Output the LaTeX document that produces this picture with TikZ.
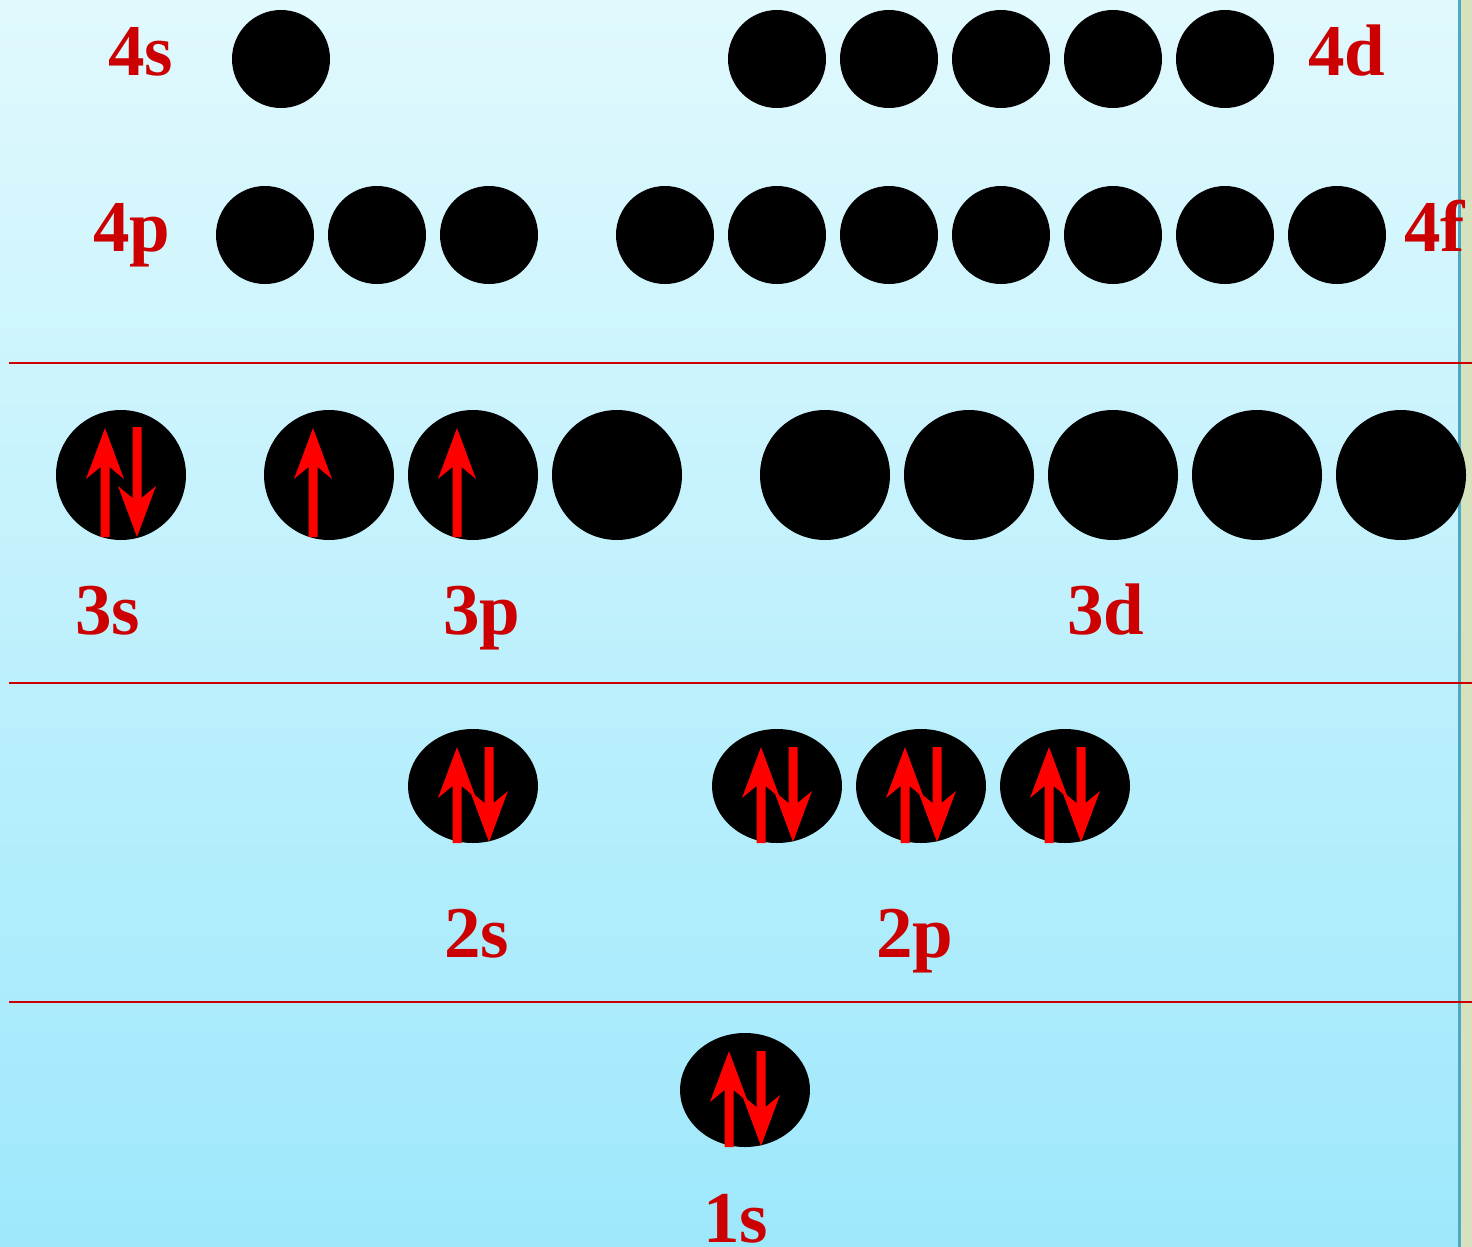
\documentclass[tikz,border=0pt]{standalone}
\usepackage{fontspec}
\setmainfont{Liberation Serif}
\usetikzlibrary{shapes.geometric,calc}
\definecolor{bgtop}{RGB}{224,249,253}
\definecolor{bgbot}{RGB}{158,232,252}
\definecolor{lblred}{RGB}{204,0,0}
\definecolor{spinred}{RGB}{255,0,0}
\definecolor{stripcol}{RGB}{214,226,190}
\definecolor{edgecol}{RGB}{78,168,196}
\tikzset{
  orbc/.style={circle, fill=black, draw=none, inner sep=0pt, minimum size=98pt},
  orbbig/.style={circle, fill=black, draw=none, inner sep=0pt, minimum size=130pt},
  orbell/.style={ellipse, fill=black, draw=none, inner sep=0pt, minimum width=130pt, minimum height=114pt},
  lbl/.style={text=lblred, font=\fontsize{73}{80}\selectfont\bfseries, inner sep=0pt, anchor=base west},
  shell/.style={draw=lblred, line width=2pt},
  pics/upspin/.style={code={
    \fill[spinred] (0,0) -- (19,51) -- (4.5,39) -- (4.5,#1) -- (-4.5,#1) -- (-4.5,39) -- (-19,51) -- cycle;
  }},
  pics/downspin/.style={code={
    \fill[spinred] (0,0) -- (19,-51) -- (4.5,-39) -- (4.5,-#1) -- (-4.5,-#1) -- (-4.5,-39) -- (-19,-51) -- cycle;
  }},
}
\begin{document}
\begin{tikzpicture}[x=1pt,y=-1pt]
\useasboundingbox (0,0) rectangle (1472,1247);
% background
\shade[top color=bgtop, bottom color=bgbot] (0,0) rectangle (1459,1247);
\fill[stripcol] (1459,0) rectangle (1472,1247);
\fill[edgecol] (1458,0) rectangle (1460.5,1247);
% shell separators
\coordinate (s1a) at (9,363);  \coordinate (s1b) at (1472,363);
\coordinate (s2a) at (9,683);  \coordinate (s2b) at (1472,683);
\coordinate (s3a) at (9,1002); \coordinate (s3b) at (1472,1002);
\draw[shell] (s1a) -- (s1b);
\draw[shell] (s2a) -- (s2b);
\draw[shell] (s3a) -- (s3b);
% n = 4
\node[orbc] (o4s) at (281,59) {};
\foreach \i/\x in {1/777,2/889,3/1001,4/1113,5/1225}
  \node[orbc] (o4d\i) at (\x,59) {};
\foreach \i/\x in {1/265,2/377,3/489}
  \node[orbc] (o4p\i) at (\x,235) {};
\foreach \i/\x in {1/665,2/777,3/889,4/1001,5/1113,6/1225,7/1337}
  \node[orbc] (o4f\i) at (\x,235) {};
% n = 3
\node[orbbig] (o3s) at (121,475) {};
\foreach \i/\x in {1/329,2/473,3/617}
  \node[orbbig] (o3p\i) at (\x,475) {};
\foreach \i/\x in {1/825,2/969,3/1113,4/1257,5/1401}
  \node[orbbig] (o3d\i) at (\x,475) {};
% n = 2
\node[orbell] (o2s) at (473,786) {};
\foreach \i/\x in {1/777,2/921,3/1065}
  \node[orbell] (o2p\i) at (\x,786) {};
% n = 1
\node[orbell] (o1s) at (745,1090) {};
% spins
\pic at ($(o3s)+(-16,-47)$) {upspin=109};
\pic at ($(o3s)+(16,62)$) {downspin=110};
\pic at ($(o3p1)+(-16,-47)$) {upspin=109};
\pic at ($(o3p2)+(-16,-47)$) {upspin=109};
\foreach \n in {o2s,o2p1,o2p2,o2p3,o1s}{
  \pic at ($(\n)+(-16,-39)$) {upspin=96};
  \pic at ($(\n)+(16,56)$) {downspin=95};
}
% labels
\node[lbl] (l4s) at (108,75) {4s};
\node[lbl] (l4d) at (1308,75) {4d};
\node[lbl] (l4p) at (93,251) {4p};
\node[lbl] (l4f) at (1404,251) {4f};
\node[lbl] (l3s) at (75,634) {3s};
\node[lbl] (l3p) at (443,634) {3p};
\node[lbl] (l3d) at (1067,634) {3d};
\node[lbl] (l2s) at (444,957) {2s};
\node[lbl] (l2p) at (876,957) {2p};
\node[lbl] (l1s) at (703,1242) {1s};
\end{tikzpicture}
\end{document}
